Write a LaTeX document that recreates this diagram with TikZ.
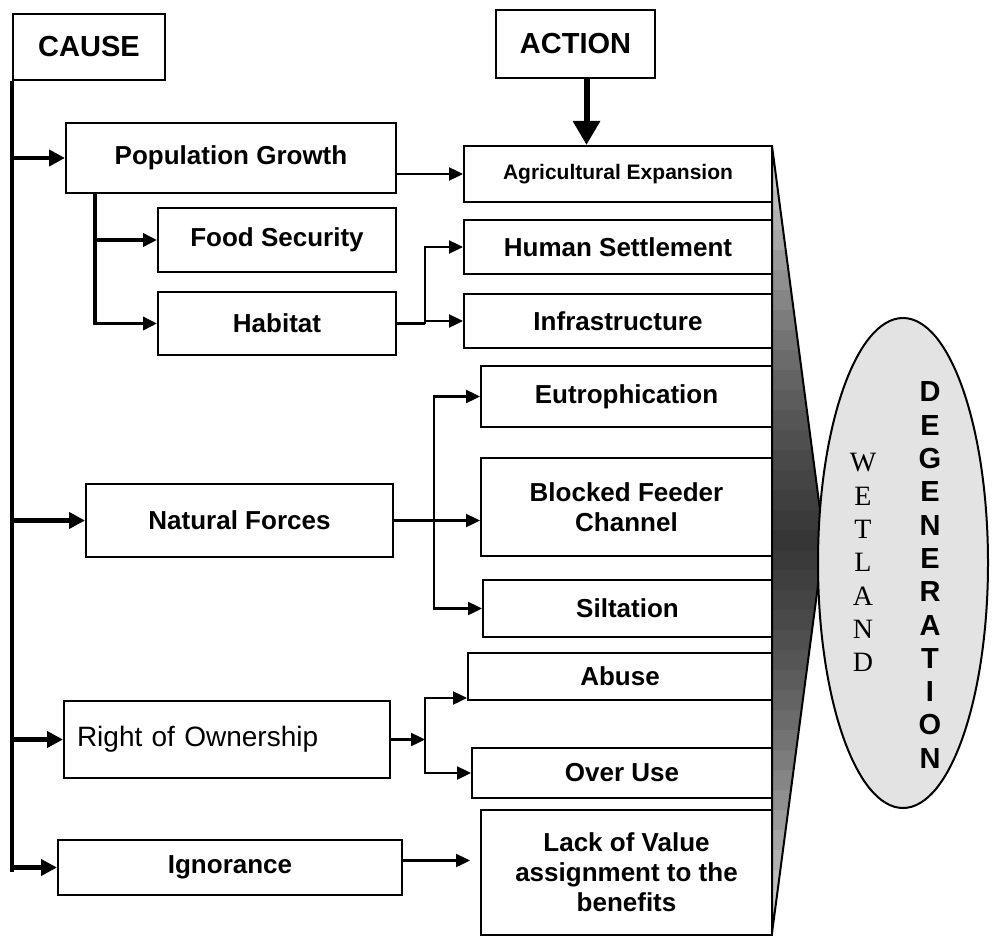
\documentclass[tikz,border=0pt]{standalone}
\usepackage{fontspec}
\setmainfont{Liberation Sans}
\newfontfamily\wetserif{Liberation Serif}
\usetikzlibrary{arrows.meta,calc}

\begin{document}
\begin{tikzpicture}[x=1pt,y=-1pt,>={Triangle[length=14pt,width=13pt]},
    box/.style={draw,line width=2pt,inner sep=0pt,align=center,
      font=\fontsize{26}{30}\selectfont\bfseries},
    trunk/.style={line width=4.5pt,-{Triangle[length=16pt,width=16pt]}},
    branch/.style={line width=3.5pt},
    link/.style={line width=2.4pt}]
    \useasboundingbox (0,0) rectangle (996,936);

    %/ Wedge and ellipse
    \fill[gray!15] (772,146) -- (824,540) -- (772,933) -- cycle;
    \foreach \h in {390,370,...,10}
      \fill[black,fill opacity=0.065] (772,540-\h) -- (824-0.132*\h,540-\h) -- (824,540)
        -- (824-0.1323*\h,540+\h) -- (772,540+\h) -- cycle;
    \draw[line width=2pt] (772,146) -- (824,540) -- (772,933) -- cycle;
    \draw[line width=2pt,fill=gray!22] (903,563) ellipse [x radius=85,y radius=245];
    \foreach \ch [count=\i from 0] in {W,E,T,L,A,N,D}
      \node[font=\wetserif\fontsize{28}{28}\selectfont] (wet\i) at (863,463+33.2*\i) {\ch};
    \foreach \ch [count=\i from 0] in {D,E,G,E,N,E,R,A,T,I,O,N}
      \node[font=\fontsize{29}{29}\selectfont\bfseries] (deg\i) at (930,392+33.3*\i) {\ch};

    %/ Headings
    \node[box,font=\fontsize{29}{30}\selectfont\bfseries,minimum width=152,minimum height=66] (cause) at (89,47) {CAUSE};
    \node[box,font=\fontsize{29}{30}\selectfont\bfseries,minimum width=159,minimum height=68] (action) at (575.5,44) {ACTION};

    %/ Causes
    \node[box,minimum width=330,minimum height=70] (popgrowth) at (231,158) {Population Growth};
    \node[box,minimum width=238,minimum height=64] (food) at (277,240) {Food Security};
    \node[box,minimum width=238,minimum height=63] (habitat) at (277,323.5) {Habitat};
    \node[box,minimum width=307,minimum height=73] (natforces) at (239.5,520.5) {Natural Forces};
    \node[box,font=\fontsize{28}{30}\selectfont,text width=300,minimum height=77,
      align=left,inner xsep=13pt] (ownership) at (227,739.5) {Right of Ownership\\[6pt]};
    \node[box,minimum width=344,minimum height=55] (ignorance) at (230,867.5) {Ignorance};

    %/ Actions
    \node[box,font=\fontsize{21}{24}\selectfont\bfseries,minimum width=308,minimum height=56] (agri) at (618,174) {Agricultural Expansion};
    \node[box,minimum width=308,minimum height=54] (human) at (618,247) {Human Settlement};
    \node[box,minimum width=308,minimum height=54] (infra) at (618,321) {Infrastructure};
    \node[box,minimum width=291,minimum height=61] (eutro) at (626.5,396.5) {Eutrophication};
    \node[box,minimum width=291,minimum height=98] (feeder) at (626.5,507) {Blocked Feeder\\Channel};
    \node[box,minimum width=289,minimum height=57] (siltation) at (627.5,608.5) {Siltation};
    \node[box,minimum width=304,minimum height=47] (abuse) at (620,676.5) {Abuse};
    \node[box,minimum width=300,minimum height=50] (overuse) at (622,773) {Over Use};
    \node[box,minimum width=291,minimum height=125] (lackvalue) at (626.5,872.5) {Lack of Value\\assignment to the\\benefits};

    %/ Trunk
    \draw[line width=4.5pt] (cause.south west) -- ([yshift=-4pt]cause.south west |- ignorance.west);
    \foreach \n in {popgrowth,natforces,ownership,ignorance}
      \draw[trunk] (cause.south west |- \n.west) -- (\n.west);
    \draw[line width=6pt,-{Triangle[length=24pt,width=26pt]}]
      ([xshift=11pt]action.south) -- ([xshift=11pt]action.south |- agri.north);

    %/ Branches
    \coordinate (pgfork) at ($(popgrowth.south west)+(30,0)$);
    \draw[branch,->] (pgfork) |- (habitat.west);
    \draw[branch,->] (pgfork |- food.west) -- (food.west);
    \draw[link,->] (agri.west -| popgrowth.east) -- (agri.west);

    \coordinate (habfork) at ($(habitat.east)+(28,0)$);
    \draw[link] (habitat.east) -- (habfork);
    \draw[link,->] (habfork) |- (human.west);
    \draw[link,->] (habfork) |- (infra.west);

    \coordinate (nffork) at ($(natforces.east)+(40,0)$);
    \draw[link,->] (natforces.east) -- (natforces.east -| feeder.west);
    \draw[link,->] (nffork) |- (eutro.west);
    \draw[link,->] (nffork) |- (siltation.west);

    \coordinate (rofork) at ($(ownership.east)+(34,0)$);
    \draw[link,->] (ownership.east) -- (rofork);
    \draw[link,->] (rofork) |- ([yshift=3pt]abuse.south west);
    \draw[link,->] (rofork) |- (overuse.west);

    \draw[link,->,shorten >=10pt] ([yshift=7pt]ignorance.east) -- ([yshift=7pt]ignorance.east -| lackvalue.west);
\end{tikzpicture}
\end{document}
